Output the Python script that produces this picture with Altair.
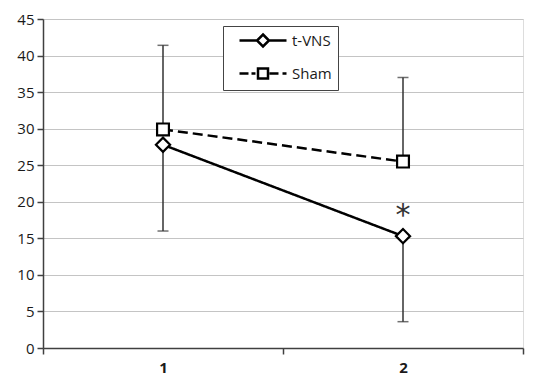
import altair as alt
import pandas as pd

timepoints = ["1", "2"]
series_names = ["t-VNS", "Sham"]
tvns_mean = [27.8, 15.3]
tvns_sd = [11.8, 11.7]
sham_mean = [29.9, 25.5]
sham_sd = [11.5, 11.5]
y_ticks = [0, 5, 10, 15, 20, 25, 30, 35, 40, 45]

rows = []
for i, t in enumerate(timepoints):
    rows.append({"time": t, "series": "t-VNS", "mean": tvns_mean[i],
                 "lo": tvns_mean[i] - tvns_sd[i], "hi": tvns_mean[i]})
    rows.append({"time": t, "series": "Sham", "mean": sham_mean[i],
                 "lo": sham_mean[i], "hi": sham_mean[i] + sham_sd[i]})
df = pd.DataFrame(rows)
sig = pd.DataFrame({"time": ["2"], "mean": [tvns_mean[1]], "label": ["*"]})

FONT = "Open Sans"
x_enc = alt.X("time:O", title=None,
              scale=alt.Scale(type="band", paddingInner=0, paddingOuter=0, domain=timepoints),
              axis=alt.Axis(tickBand="extent", labelAngle=0, labelFontWeight="bold",
                            labelFontSize=15, labelPadding=6, grid=False,
                            domainColor="#404040", domainWidth=1.5,
                            tickColor="#404040", tickWidth=1.5, tickSize=6,
                            labelColor="#1a1a1a", labelFont=FONT))
y_scale = alt.Scale(domain=[0, 45], nice=False, zero=True)
y_axis = alt.Axis(values=y_ticks, title=None, gridColor="#c4c4c4", gridWidth=1.2,
                  domainColor="#404040", domainWidth=1.5, tickColor="#404040",
                  tickWidth=1.5, tickSize=6, labelFontSize=15, labelColor="#1a1a1a",
                  labelFont=FONT, labelPadding=3, labelOverlap=False)


def Y(field):
    return alt.Y(field, scale=y_scale, axis=y_axis)


base = alt.Chart(df)

err = base.mark_rule(color="#333333", strokeWidth=1.5).encode(
    x=x_enc, y=Y("lo:Q"), y2="hi:Q")
cap_lo = base.transform_filter("datum.series == 't-VNS'").mark_tick(
    color="#333333", thickness=1.5, size=11).encode(x=x_enc, y=Y("lo:Q"))
cap_hi = base.transform_filter("datum.series == 'Sham'").mark_tick(
    color="#333333", thickness=1.5, size=11).encode(x=x_enc, y=Y("hi:Q"))

lines = base.mark_line(color="black", strokeWidth=2.5).encode(
    x=x_enc, y=Y("mean:Q"),
    strokeDash=alt.StrokeDash("series:N", scale=alt.Scale(domain=series_names, range=[[1, 0], [10, 5]]),
                              legend=None),
    detail="series:N")

points = base.mark_point(filled=True, fill="white", stroke="black", strokeWidth=2.2, opacity=1).encode(
    x=x_enc, y=Y("mean:Q"),
    shape=alt.Shape("series:N", scale=alt.Scale(domain=series_names, range=["diamond", "square"]),
                    legend=None),
    size=alt.Size("series:N", scale=alt.Scale(domain=series_names, range=[200, 140]), legend=None))

# legend-only layer: its own marks are parked outside the canvas
tvns_path = ("M 0.286 0 L 2.786 0 M 4.5 0 L 7 0 "
             "M 3.643 -0.857 L 4.5 0 L 3.643 0.857 L 2.786 0 Z")
sham_path = ("M 0.286 0 L 1.571 0 M 2.0 0 L 2.57 0 M 4.571 0 L 5.857 0 M 6.429 0 L 7.0 0 "
             "M 2.929 -0.714 L 4.357 -0.714 L 4.357 0.714 L 2.929 0.714 Z")
legend_layer = base.mark_point(filled=False, color="black", strokeWidth=2.5, opacity=1).encode(
    x=alt.value(-500), y=alt.value(-500),
    shape=alt.Shape("series:N",
                    scale=alt.Scale(domain=series_names, range=[tvns_path, sham_path]),
                    legend=alt.Legend(title=None, orient="none", legendX=180, legendY=7,
                                      symbolSize=196, symbolStrokeWidth=2.5,
                                      symbolStrokeColor="black", symbolOpacity=1,
                                      labelFontSize=15, labelFont=FONT, labelColor="#1a1a1a",
                                      labelOffset=46, rowPadding=11, padding=6,
                                      strokeColor="#444444", fillColor="white")))

star = alt.Chart(sig).mark_text(text="*", fontSize=30, font="DejaVu Sans", color="#333333",
                                baseline="middle", dy=-20).encode(
    x=x_enc, y=Y("mean:Q"))

chart = alt.layer(err, cap_lo, cap_hi, lines, points, legend_layer, star).resolve_scale(
    shape="independent").properties(
    width=480, height=329,
    autosize=alt.AutoSizeParams(type="none"),
    padding={"left": 35, "top": 11, "right": 8, "bottom": 27},
).configure_view(stroke=None).configure(background="white")

chart.save("out.html", embed_options={"renderer": "svg", "actions": False})
